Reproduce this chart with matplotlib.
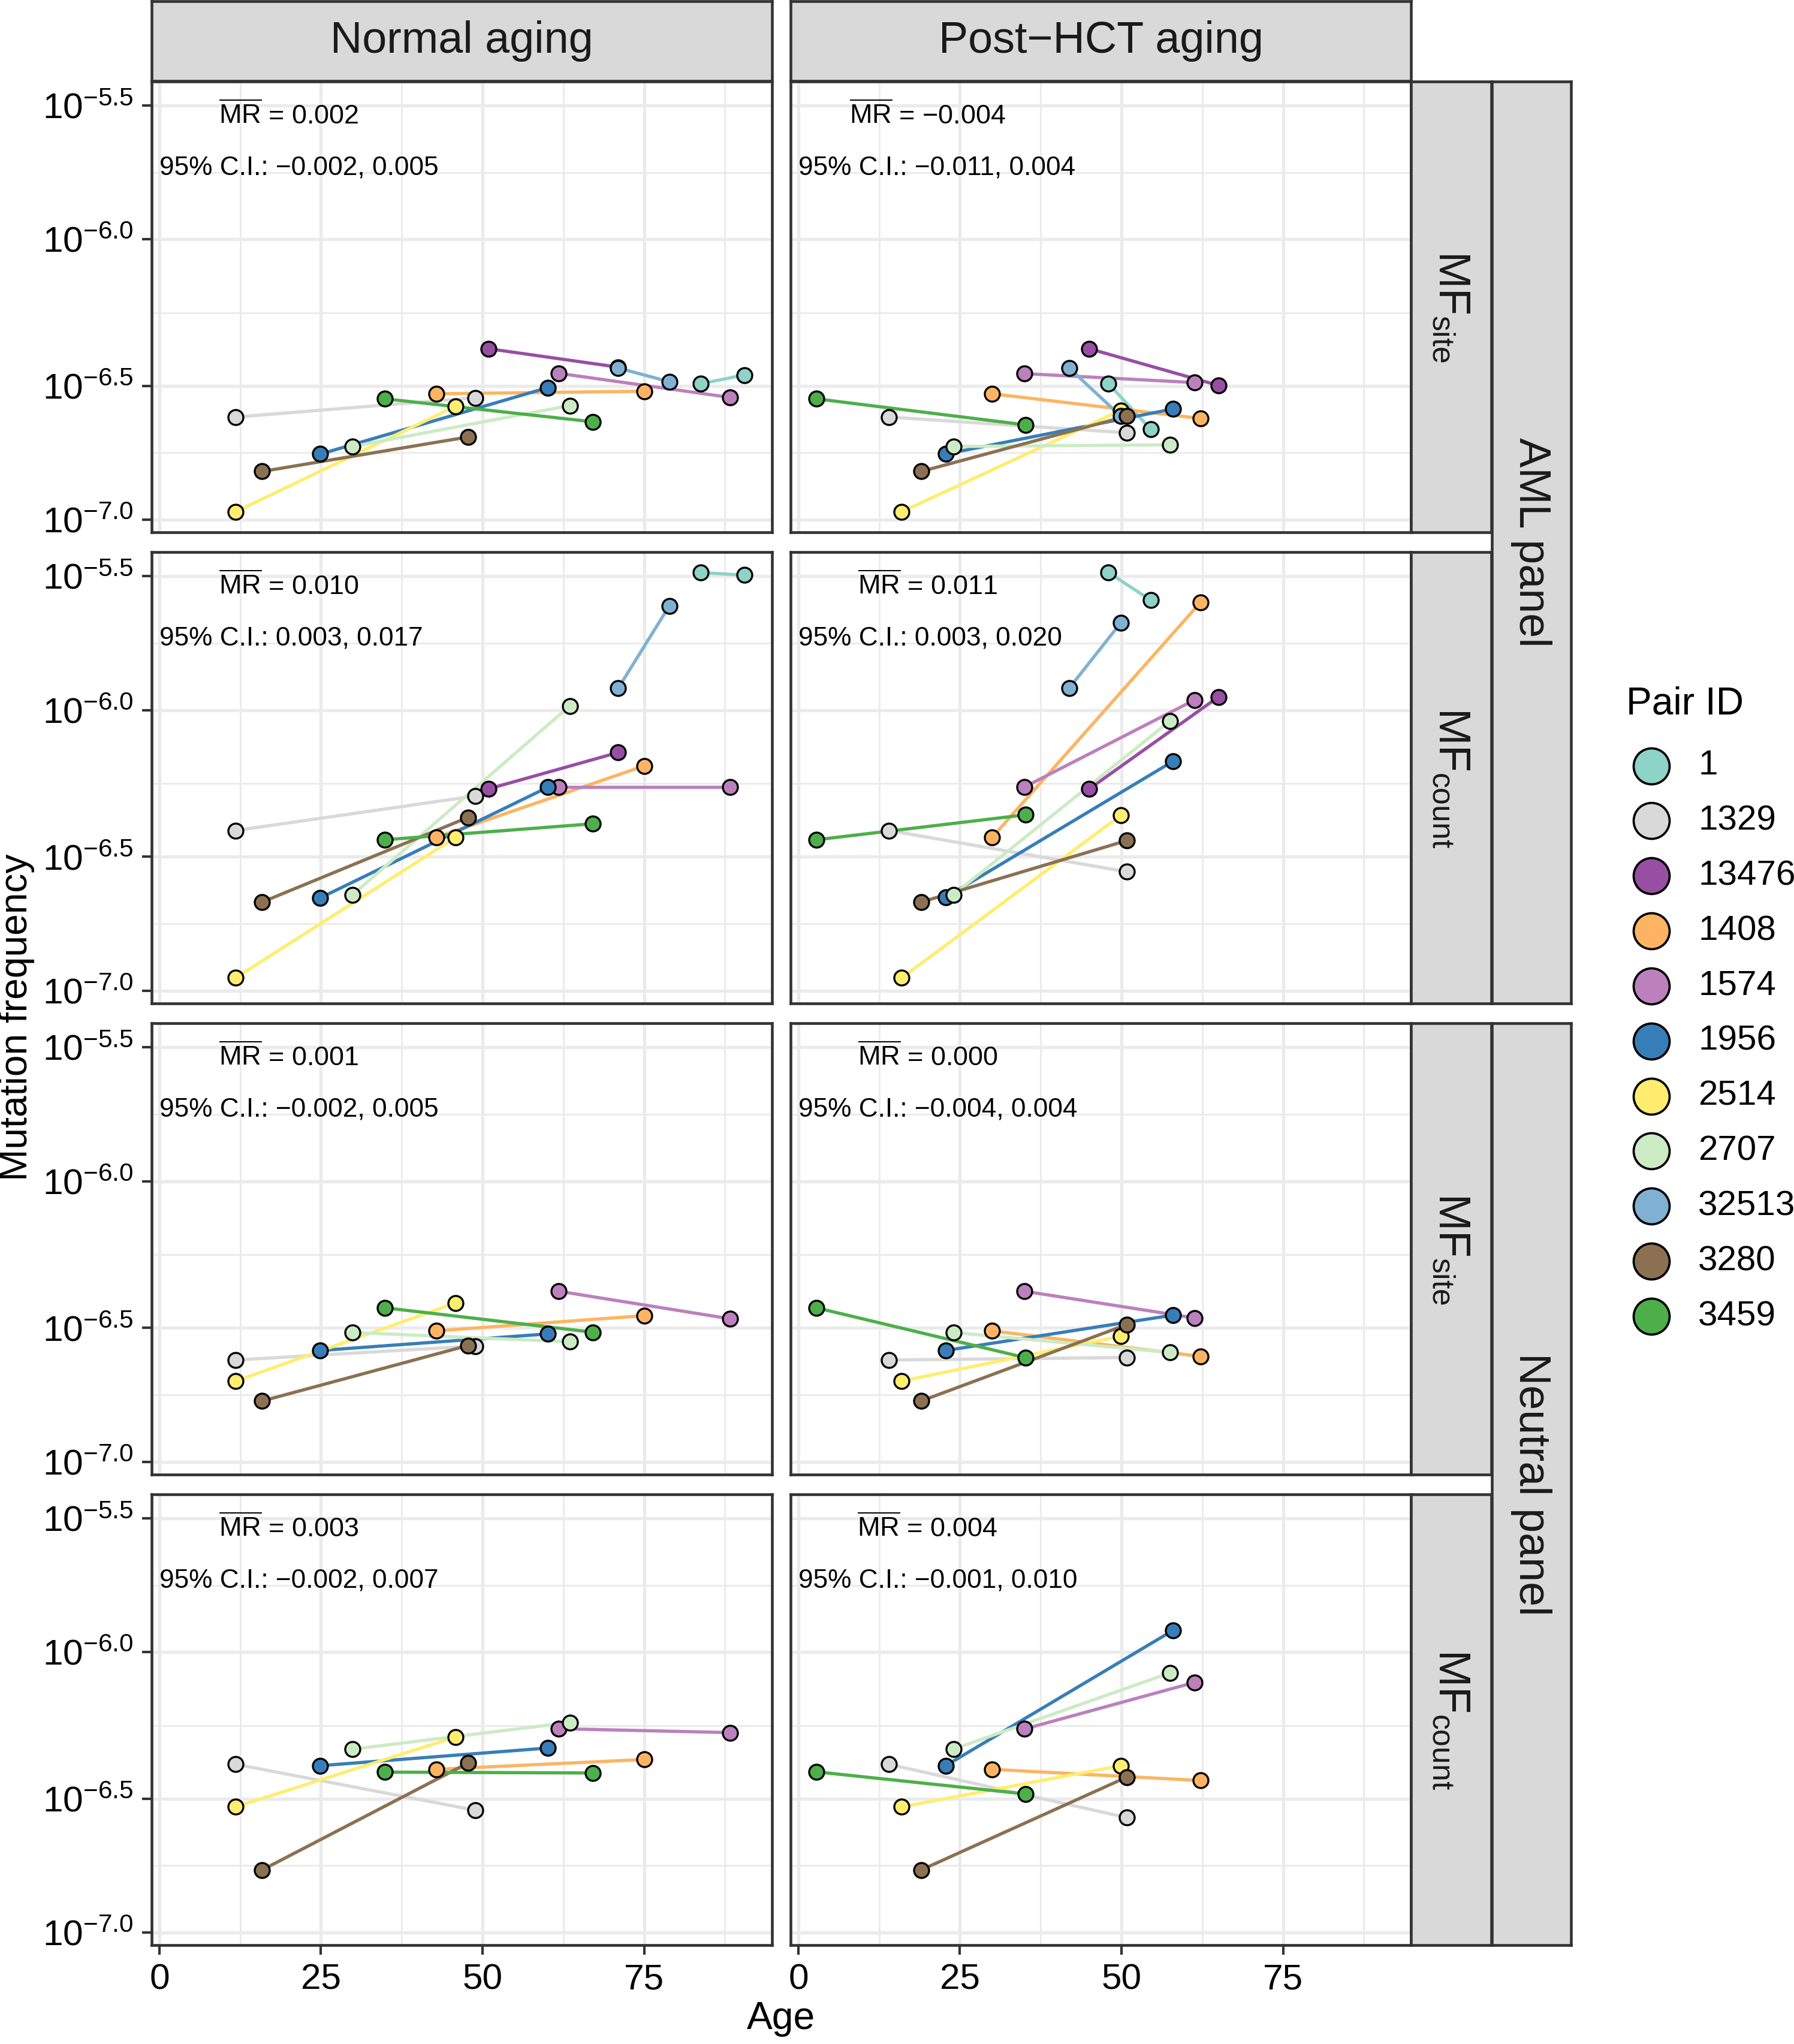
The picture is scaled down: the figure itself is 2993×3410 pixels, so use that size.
import numpy as np
import matplotlib
matplotlib.use("Agg")
import matplotlib.pyplot as plt
from matplotlib.ticker import FixedLocator, NullFormatter

plt.rcParams["font.family"] = ["Liberation Sans", "DejaVu Sans"]
plt.rcParams["mathtext.fontset"] = "custom"
plt.rcParams["mathtext.rm"] = "Liberation Sans"
plt.rcParams["mathtext.it"] = "Liberation Sans:italic"
plt.rcParams["mathtext.bf"] = "Liberation Sans:bold"
plt.rcParams["mathtext.default"] = "regular"

# pair IDs (legend order) and colours
pair_ids = ["1", "1329", "13476", "1408", "1574", "1956", "2514", "2707", "32513", "3280", "3459"]
pair_colors = ["#8DD3C7", "#D9D9D9", "#984EA3", "#FDB462", "#BC80BD", "#377EB8",
               "#FFED6F", "#CCEBC5", "#80B1D3", "#8B7152", "#4DAF4A"]

# ages of the two samples of each pair
normal_age = {"1": [83.8, 90.5], "1329": [11.8, 48.9], "13476": [50.9, 71.0], "1408": [42.9, 75.0],
              "1574": [61.8, 88.3], "1956": [24.9, 60.1], "2514": [11.8, 45.8], "2707": [29.9, 63.5],
              "32513": [71.0, 78.9], "3280": [15.9, 47.8], "3459": [34.9, 67.1]}
hct_age = {"1": [48.0, 54.5], "1329": [14.0, 50.8], "13476": [45.0, 65.0], "1408": [30.0, 62.2],
           "1574": [35.0, 61.3], "1956": [22.8, 58.0], "2514": [16.0, 49.9], "2707": [24.0, 57.5],
           "32513": [41.9, 49.9], "3280": [19.0, 50.8], "3459": [2.8, 35.2]}

# log10 mutation frequency per pair (first, second sample)
aml_site_normal = {"1": [-6.515, -6.484], "1329": [-6.634, -6.565], "13476": [-6.390, -6.456],
                   "1408": [-6.551, -6.542], "1574": [-6.478, -6.564], "1956": [-6.766, -6.529],
                   "2514": [-6.972, -6.596], "2707": [-6.739, -6.593], "32513": [-6.459, -6.508],
                   "3280": [-6.828, -6.705], "3459": [-6.569, -6.651]}
aml_site_hct = {"1": [-6.515, -6.677], "1329": [-6.634, -6.690], "13476": [-6.390, -6.521],
                "1408": [-6.551, -6.639], "1574": [-6.479, -6.511], "1956": [-6.766, -6.605],
                "2514": [-6.972, -6.610], "2707": [-6.739, -6.733], "32513": [-6.459, -6.631],
                "3280": [-6.828, -6.631], "3459": [-6.569, -6.662]}
aml_count_normal = {"1": [-5.510, -5.519], "1329": [-6.429, -6.306], "13476": [-6.281, -6.151],
                    "1408": [-6.453, -6.199], "1574": [-6.274, -6.274], "1956": [-6.669, -6.275],
                    "2514": [-6.954, -6.454], "2707": [-6.658, -5.985], "32513": [-5.922, -5.629],
                    "3280": [-6.684, -6.382], "3459": [-6.462, -6.405]}
aml_count_hct = {"1": [-5.510, -5.608], "1329": [-6.429, -6.576], "13476": [-6.281, -5.953],
                 "1408": [-6.453, -5.617], "1574": [-6.274, -5.964], "1956": [-6.667, -6.182],
                 "2514": [-6.954, -6.375], "2707": [-6.658, -6.039], "32513": [-5.922, -5.689],
                 "3280": [-6.684, -6.465], "3459": [-6.462, -6.373]}
neutral_site_normal = {"1329": [-6.637, -6.587], "1408": [-6.533, -6.479], "1574": [-6.392, -6.490],
                       "1956": [-6.603, -6.544], "2514": [-6.712, -6.434], "2707": [-6.539, -6.572],
                       "3280": [-6.783, -6.585], "3459": [-6.451, -6.538]}
neutral_site_hct = {"1329": [-6.637, -6.628], "1408": [-6.533, -6.624], "1574": [-6.392, -6.487],
                    "1956": [-6.603, -6.477], "2514": [-6.712, -6.552], "2707": [-6.539, -6.610],
                    "3280": [-6.783, -6.511], "3459": [-6.451, -6.629]}
neutral_count_normal = {"1329": [-6.400, -6.564], "1408": [-6.418, -6.383], "1574": [-6.273, -6.287],
                        "1956": [-6.405, -6.342], "2514": [-6.552, -6.303], "2707": [-6.346, -6.251],
                        "3280": [-6.777, -6.395], "3459": [-6.428, -6.431]}
neutral_count_hct = {"1329": [-6.400, -6.590], "1408": [-6.418, -6.458], "1574": [-6.274, -6.108],
                     "1956": [-6.405, -5.922], "2514": [-6.552, -6.405], "2707": [-6.346, -6.074],
                     "3280": [-6.777, -6.446], "3459": [-6.427, -6.506]}

# mean mutation rate and 95% CI per panel [row][col]
mr_values = [[0.002, -0.004], [0.010, 0.011], [0.001, 0.000], [0.003, 0.004]]
ci_low = [[-0.002, -0.011], [0.003, 0.003], [-0.002, -0.004], [-0.002, -0.001]]
ci_high = [[0.005, 0.004], [0.017, 0.020], [0.005, 0.004], [0.007, 0.010]]

col_labels = ["Normal aging", "Post\u2212HCT aging"]
row_labels = [r"$\mathrm{MF}_{\mathrm{site}}$", r"$\mathrm{MF}_{\mathrm{count}}$",
              r"$\mathrm{MF}_{\mathrm{site}}$", r"$\mathrm{MF}_{\mathrm{count}}$"]
group_labels = ["AML panel", "Neutral panel"]
y_breaks = [1e-7, 3e-7, 1e-6, 3e-6]
y_break_labels = [r"$10^{-7.0}$", r"$10^{-6.5}$", r"$10^{-6.0}$", r"$10^{-5.5}$"]
x_breaks = [0, 25, 50, 75]

panel_values = [[aml_site_normal, aml_site_hct], [aml_count_normal, aml_count_hct],
                [neutral_site_normal, neutral_site_hct], [neutral_count_normal, neutral_count_hct]]
col_ages = [normal_age, hct_age]
color_of = dict(zip(pair_ids, pair_colors))

# ---- layout (pixels of the 2993x3410 output) ----
W, H, DPI = 2993, 3410, 300
fig = plt.figure(figsize=(W / DPI, H / DPI), dpi=DPI)


def px_rect(x0, y0, x1, y1):
    return [x0 / W, 1 - y1 / H, (x1 - x0) / W, (y1 - y0) / H]


col_x = [(253, 1288), (1319, 2354)]
row_y = [(136, 888), (921, 1674), (1707, 2460), (2493, 3245)]
border = "#333333"

all_logs = [v for row in panel_values for d in row for pair in d.values() for v in pair]
lo, hi = min(all_logs), max(all_logs)
span = hi - lo
ylim = (10 ** (lo - 0.05 * span), 10 ** (hi + 0.05 * span))
y_minor = [np.sqrt(a * b) for a, b in zip(y_breaks[:-1], y_breaks[1:])]


def fmt(v):
    return f"{v:.3f}".replace("-", "\u2212")


for r in range(4):
    for c in range(2):
        ax = fig.add_axes(px_rect(col_x[c][0], row_y[r][0], col_x[c][1], row_y[r][1]))
        values = panel_values[r][c]
        ages = col_ages[c]
        ids = [p for p in pair_ids if p in values]
        for p in ids:
            ax.plot(ages[p], 10 ** np.array(values[p]), color=color_of[p], lw=1.3, zorder=2)
        for p in ids:
            ax.plot(ages[p], 10 ** np.array(values[p]), ls="none", marker="o", ms=6.0,
                    mfc=color_of[p], mec="black", mew=0.8, zorder=3)

        ax.set_yscale("log")
        ax.set_ylim(*ylim)
        ax.set_xlim(-1.2, 94.8)
        ax.yaxis.set_major_locator(FixedLocator(y_breaks))
        ax.yaxis.set_minor_locator(FixedLocator(y_minor))
        ax.yaxis.set_minor_formatter(NullFormatter())
        ax.xaxis.set_major_locator(FixedLocator(x_breaks))
        ax.xaxis.set_minor_locator(FixedLocator([12.5, 37.5, 62.5, 87.5]))
        ax.grid(which="major", color="#EBEBEB", lw=1.3)
        ax.grid(which="minor", color="#EBEBEB", lw=0.7)
        ax.set_axisbelow(True)
        for s in ax.spines.values():
            s.set_color(border)
            s.set_linewidth(1.1)
            s.set_zorder(5)
        ax.tick_params(which="minor", length=0)
        ax.tick_params(which="major", length=3.9, width=1.0, color=border,
                       labelsize=14.5, labelcolor="black", pad=3.4)
        if c == 0:
            ax.set_yticklabels(y_break_labels)
        else:
            ax.tick_params(axis="y", which="major", length=0, labelleft=False)
        if r == 3:
            ax.set_xticklabels([str(b) for b in x_breaks])
        else:
            ax.tick_params(axis="x", which="major", length=0, labelbottom=False)

        ax.text(20, 10 ** -5.588, r"$\overline{\mathrm{MR}}$" + " = " + fmt(mr_values[r][c]),
                ha="center", va="baseline", fontsize=10.8, zorder=4)
        ax.text(0, 10 ** -5.769, "95% C.I.: " + fmt(ci_low[r][c]) + ", " + fmt(ci_high[r][c]),
                ha="left", va="baseline", fontsize=10.6, zorder=4)


def strip(rect, text, rotation=0):
    sax = fig.add_axes(px_rect(*rect))
    sax.set_facecolor("#D9D9D9")
    sax.set_xticks([])
    sax.set_yticks([])
    for s in sax.spines.values():
        s.set_color(border)
        s.set_linewidth(1.1)
    sax.text(0.5, 0.5, text, transform=sax.transAxes, ha="center", va="center",
             rotation=rotation, fontsize=17.7, color="#1A1A1A")


for c in range(2):
    strip((col_x[c][0], 2, col_x[c][1], 135), col_labels[c])
for r in range(4):
    strip((2354, row_y[r][0], 2488, row_y[r][1]), row_labels[r], rotation=-90)
strip((2489, row_y[0][0], 2621, row_y[1][1]), group_labels[0], rotation=-90)
strip((2489, row_y[2][0], 2621, row_y[3][1]), group_labels[1], rotation=-90)

fig.text(28 / W, 1 - 1697 / H, "Mutation frequency", rotation=90, ha="center", va="center",
         fontsize=15.4)
fig.text(1303 / W, 1 - 3385 / H, "Age", ha="center", va="baseline", fontsize=15.4)

# legend
leg = fig.add_axes([0, 0, 1, 1])
leg.set_xlim(0, W)
leg.set_ylim(H, 0)
leg.axis("off")
leg.text(2713, 1192, "Pair ID", ha="left", va="baseline", fontsize=15.4)
for i, (p, col) in enumerate(zip(pair_ids, pair_colors)):
    y = 1277.5 + i * 91.85
    leg.scatter([2755], [y], s=14.4 ** 2, color=col, edgecolors="black", linewidths=0.9)
    leg.text(2833, y, p, ha="left", va="center", fontsize=14)

fig.savefig("out.png", dpi=DPI)
